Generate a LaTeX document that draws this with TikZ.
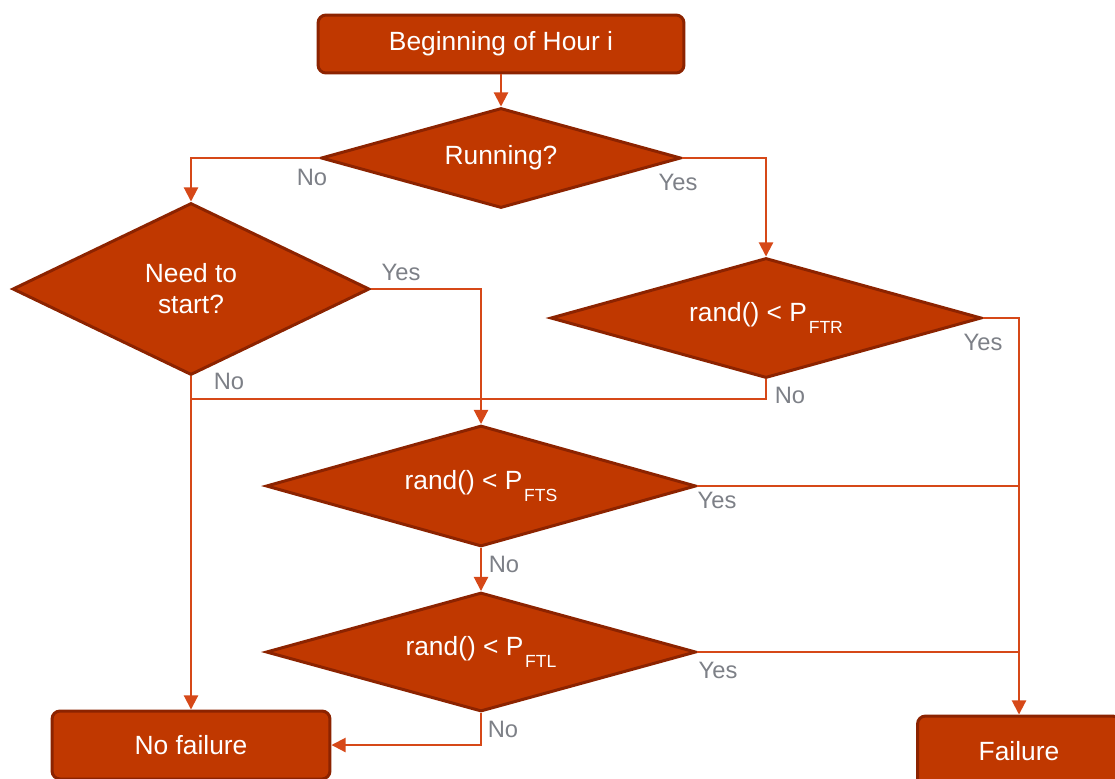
\documentclass[tikz,border=0pt]{standalone}
\usepackage{fontspec}
\setmainfont{Liberation Sans}
\usetikzlibrary{arrows.meta,shapes.geometric}
\definecolor{boxfill}{RGB}{192,56,0}
\definecolor{boxline}{RGB}{140,35,0}
\definecolor{flowline}{RGB}{214,72,24}
\definecolor{labelgray}{RGB}{125,128,135}
\def\sub#1{\kern1pt\raisebox{-7pt}{\fontsize{10}{12}\selectfont #1}}
\tikzset{
	block/.style={rectangle, rounded corners=0.16cm, fill=boxfill, draw=boxline, line width=0.06cm, text=white, font=\fontsize{15}{17.6}\selectfont, inner sep=0pt},
	decision/.style={diamond, aspect=3.5, fill=boxfill, draw=boxline, line width=0.06cm, text=white, font=\fontsize{15}{17.6}\selectfont, inner sep=0pt, align=center},
	link/.style={draw=flowline, line width=0.04cm},
	flow/.style={link, -{Triangle[length=8pt,width=8pt]}},
	answer/.style={text=labelgray, font=\fontsize{13.5}{16}\selectfont, inner sep=0pt}
}

\begin{document}
\begin{tikzpicture}[x=0.02cm, y=-0.02cm]
		%%%%% START %%%%%
		
		\clip (0, 0) rectangle (1115, 778);
		
		\node[block, minimum width=7.32cm, minimum height=1.16cm] (start) at (501, 44) {Beginning of Hour i};
		\node[decision, minimum width=7.2cm, minimum height=2.0cm] (run) at (501, 158) {Running?};
		\node[decision, minimum width=7.14cm, minimum height=3.44cm] (need) at (191, 289) {Need to\\start?};
		\node[decision, minimum width=8.62cm, minimum height=2.4cm] (ftr) at (766, 318) {rand() < P\sub{FTR}};
		\node[decision, minimum width=8.6cm, minimum height=2.42cm] (fts) at (481, 486) {rand() < P\sub{FTS}};
		\node[decision, minimum width=8.6cm, minimum height=2.38cm] (ftl) at (481, 652) {rand() < P\sub{FTL}};
		\node[block, minimum width=5.56cm, minimum height=1.36cm] (nofail) at (191, 745) {No failure};
		\node[block, minimum width=4.06cm, minimum height=1.4cm] (fail) at (1019, 751) {Failure};
		
		\coordinate (nojoin) at (191, 399);
		
		\draw[flow] (start) -- (run);
		\draw[flow] (run.west) -| (need.north);
		\draw[flow] (run.east) -| (ftr.north);
		\draw[flow] (need.east) -| (fts.north);
		\draw[flow] (need.south) -- (nofail.north);
		\draw[link] (ftr.south) |- (nojoin);
		\draw[flow] (ftr.east) -| (fail.north);
		\draw[link] (fts.east) -- (fts.east -| fail.north);
		\draw[flow] (fts) -- (ftl);
		\draw[link] (ftl.east) -- (ftl.east -| fail.north);
		\draw[flow] (ftl.south) |- (nofail.east);
		
		\node[answer] (runno) at (312, 177) {No};
		\node[answer] (runyes) at (678, 182) {Yes};
		\node[answer] (needyes) at (401, 272) {Yes};
		\node[answer] (needno) at (229, 381) {No};
		\node[answer] (ftryes) at (983, 342) {Yes};
		\node[answer] (ftrno) at (790, 395) {No};
		\node[answer] (ftsyes) at (717, 500) {Yes};
		\node[answer] (ftsno) at (504, 564) {No};
		\node[answer] (ftlyes) at (718, 670) {Yes};
		\node[answer] (ftlno) at (503, 729) {No};
		
		%%%%% END %%%%%
	\end{tikzpicture}
\end{document}
